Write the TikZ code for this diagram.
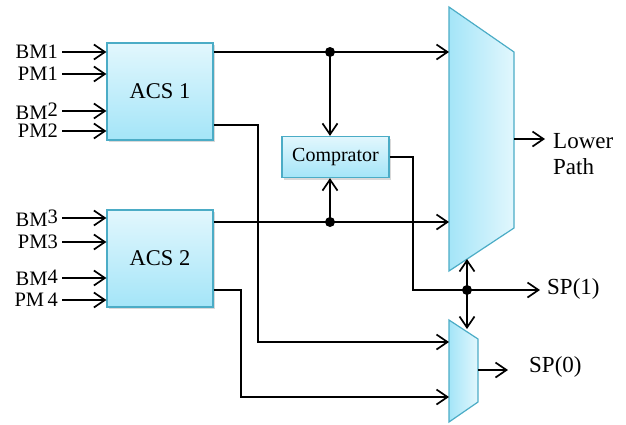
\documentclass[tikz,border=0pt]{standalone}
\usepackage{fontspec}
\setmainfont{Liberation Serif}
\usetikzlibrary{arrows.meta,shadows}
\definecolor{edgeblue}{RGB}{75,172,198}
\definecolor{lightaqua}{RGB}{226,247,253}
\definecolor{deepaqua}{RGB}{164,229,248}
\tikzset{
  wire/.style={line width=1.7pt, black},
  arr/.style={wire, -{Straight Barb[length=11pt,width=15pt]}},
  junction/.style={circle, fill=black, inner sep=0pt, minimum size=10pt},
  unitbox/.style={draw=edgeblue, line width=1.2pt, top color=lightaqua, bottom color=deepaqua,
    drop shadow={shadow xshift=2pt, shadow yshift=-2pt, opacity=0.3}},
  acsbox/.style={unitbox, minimum width=106pt, minimum height=97pt, inner sep=0pt,
    font=\fontsize{22.5}{26}\selectfont},
  cmpbox/.style={unitbox, minimum width=107pt, minimum height=41pt, inner sep=0pt,
    font=\fontsize{20}{22}\selectfont},
  muxbody/.style={draw=edgeblue, line width=1.2pt, left color=deepaqua, right color=lightaqua},
  inlab/.style={inner xsep=4pt, inner ysep=0pt, anchor=east, font=\fontsize{20.5}{24}\selectfont},
  outlab/.style={inner sep=0pt, anchor=west, align=left, font=\fontsize{23}{26}\selectfont},
}
\newcommand{\up}[1]{\raisebox{2.5pt}{#1}}
\begin{document}
\begin{tikzpicture}[x=1pt,y=-1pt]
\useasboundingbox (0,0) rectangle (626,424);

% ACS units and comparator
\node[acsbox] (acs1) at (160,91.5) {ACS 1};
\node[acsbox] (acs2) at (160,258.5) {ACS 2};
\node[cmpbox] (cmp) at (335.5,157) {Comprator};

% input labels
\node[inlab] (bm1) at (62,52)  {BM1};
\node[inlab] (pm1) at (62,74)  {PM1};
\node[inlab] (bm2) at (62,111) {BM\up{2}};
\node[inlab] (pm2) at (62,131) {PM2};
\node[inlab] (bm3) at (62,218) {BM\up{3}};
\node[inlab] (pm3) at (62,242) {PM3};
\node[inlab] (bm4) at (62,278) {BM\up{4}};
\node[inlab] (pm4) at (62,300) {PM\,4};
\foreach \n/\b in {bm1/acs1,pm1/acs1,bm2/acs1,pm2/acs1,bm3/acs2,pm3/acs2,bm4/acs2,pm4/acs2}
  \draw[arr] (\n.east) -- (\n.east -| \b.west);

% multiplexers
\draw[muxbody] (449,7) -- (514,52) -- (514,228) -- (449,271) -- cycle;
\draw[muxbody] (449,320) -- (478,339) -- (478,402) -- (449,422) -- cycle;
\coordinate (upin)  at (449,52);
\coordinate (lowin) at (449,222);
\coordinate (upout) at (514,139);
\coordinate (upsel) at (467,259);
\coordinate (sin1)  at (449,342);
\coordinate (sin2)  at (449,397);
\coordinate (sout)  at (478,370);
\coordinate (ssel)  at (467,329);

% routing corners
\coordinate (t1) at (258,125);
\coordinate (t2) at (241,290);
\coordinate (t3) at (413,290);

% junctions
\node[junction] (j1) at (330,52) {};
\node[junction] (j2) at (330,222) {};
\node[junction] (j3) at (467,290) {};

% output labels and arrow ends
\node[outlab] (lp)  at (553,154) {Lower\\Path};
\node[outlab] (sp1) at (547,289) {SP(1)};
\node[outlab] (sp0) at (529,367) {SP(0)};
\coordinate (lpend)  at (545,139);
\coordinate (sp1end) at (540,290);
\coordinate (sp0end) at (508,370);

% connections
\draw[arr] (acs1.east |- j1) -- (upin);
\draw[arr] (j1.center) -- (cmp.north -| j1);
\draw[arr] (acs2.east |- j2) -- (lowin);
\draw[arr] (j2.center) -- (cmp.south -| j2);
\draw[arr] (acs1.east |- t1) -- (t1) -- (t1 |- sin1) -- (sin1);
\draw[arr] (acs2.east |- t2) -- (t2) -- (t2 |- sin2) -- (sin2);
\draw[wire] (cmp.east) -- (cmp.east -| t3) -- (t3) -- (j3.center);
\draw[arr] (j3.center) -- (sp1end);
\draw[arr] (j3.center) -- (upsel);
\draw[arr] (j3.center) -- (ssel);
\draw[arr] (upout) -- (lpend);
\draw[arr] (sout) -- (sp0end);
\end{tikzpicture}
\end{document}
